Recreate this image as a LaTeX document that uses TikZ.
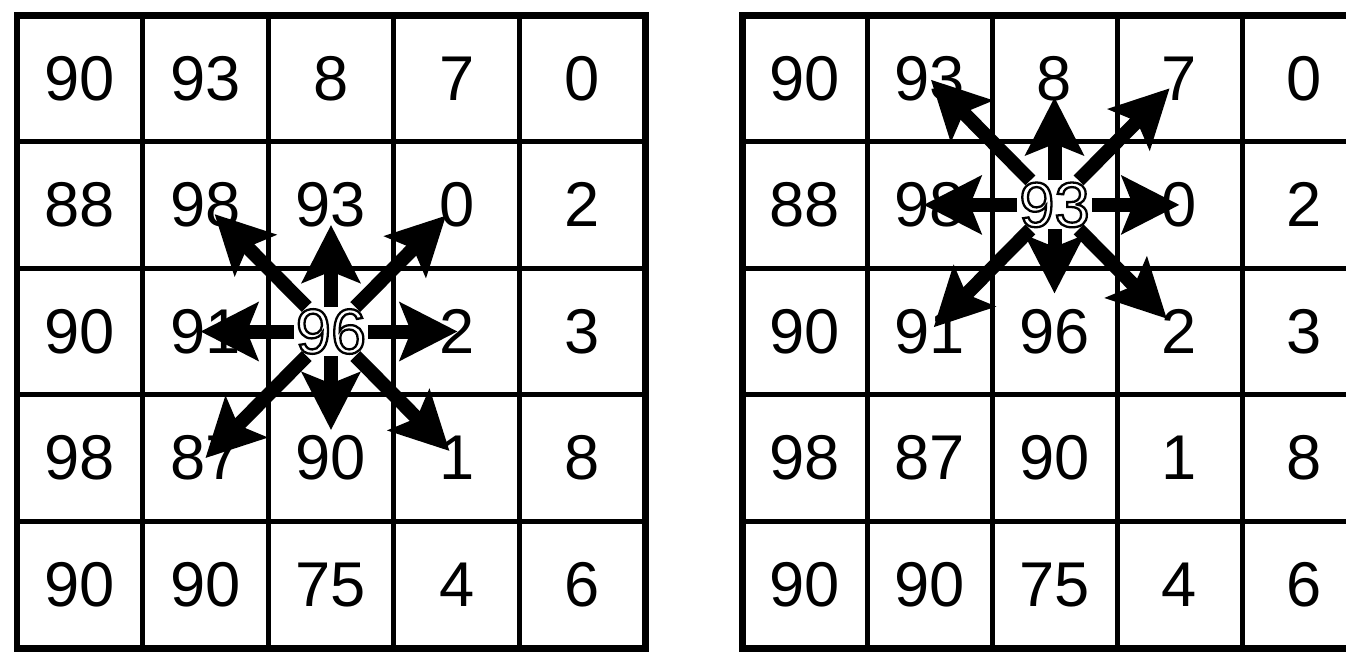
\documentclass[tikz,border=0pt]{standalone}
\usepackage{xcolor}
\usepackage{fontspec}
\setmainfont{Liberation Sans}
\usepackage{tikz}
\usetikzlibrary{arrows.meta}

% digits drawn as outlines only
\newcommand\hollownum[1]{%
  \special{pdf:literal direct 1 Tr 1.3 w}#1\special{pdf:literal direct 0 Tr}}

\tikzset{
  cellnum/.style={font=\fontsize{36}{36}\selectfont, inner sep=1pt},
  gridline/.style={line width=0.1cm},
  gridframe/.style={line width=0.14cm},
  moveto/.style={line width=0.28cm, -{Stealth[length=1.15cm,width=1.15cm,inset=0.22cm]}},
}

\begin{document}
\begin{tikzpicture}[x=0.02cm,y=-0.02cm]
  \path[fill=white,use as bounding box] (0,0) rectangle (1346,654);
  \clip (0,0) rectangle (1346,654);

  % left grid
  \foreach \k in {1,...,4} {
    \draw[gridline] (17+\k*125.6,15) -- (17+\k*125.6,648);
    \draw[gridline] (17,15+\k*126.6) -- (645,15+\k*126.6);
  }
  \draw[gridframe] (17,15) rectangle (645,648);
  \foreach \v [count=\k from 0] in {90,93,8,7,0,88,98,93,0,2,90,91,\hollownum{96},2,3,98,87,90,1,8,90,90,75,4,6} {
    \pgfmathtruncatemacro\ri{int(\k/5)}
    \pgfmathtruncatemacro\ci{mod(\k,5)}
    \node[cellnum] (l-\ri-\ci) at (79.8+\ci*125.6,78.3+\ri*126.6) {\v};
  }

  % right grid
  \foreach \k in {1,...,4} {
    \draw[gridline] (742+\k*125,15) -- (742+\k*125,648);
    \draw[gridline] (742,15+\k*126.6) -- (1367,15+\k*126.6);
  }
  \draw[gridframe] (742,15) rectangle (1367,648);
  \foreach \v [count=\k from 0] in {90,93,8,7,0,88,98,\hollownum{93},0,2,90,91,96,2,3,98,87,90,1,8,90,90,75,4,6} {
    \pgfmathtruncatemacro\ri{int(\k/5)}
    \pgfmathtruncatemacro\ci{mod(\k,5)}
    \node[cellnum] (r-\ri-\ci) at (804.5+\ci*125,78.3+\ri*126.6) {\v};
  }

  % moves out of the centre cell
  \foreach \di/\dj/\gap in {-1/-1/0.26cm,-1/0/0.4cm,-1/1/0.3cm,0/-1/-0.1cm,0/1/-0.02cm,1/-1/0cm,1/0/0.56cm,1/1/0.2cm} {
    \pgfmathtruncatemacro\ti{2+\di}
    \pgfmathtruncatemacro\tj{2+\dj}
    \draw[moveto,shorten >=\gap] (l-2-2) -- (l-\ti-\tj.center);
  }
  \foreach \di/\dj/\gap in {-1/-1/0.04cm,-1/0/0.38cm,-1/1/0.28cm,0/-1/-0.12cm,0/1/0cm,1/-1/0.12cm,1/0/0.76cm,1/1/0.36cm} {
    \pgfmathtruncatemacro\ti{1+\di}
    \pgfmathtruncatemacro\tj{2+\dj}
    \draw[moveto,shorten >=\gap] (r-1-2) -- (r-\ti-\tj.center);
  }
\end{tikzpicture}
\end{document}
